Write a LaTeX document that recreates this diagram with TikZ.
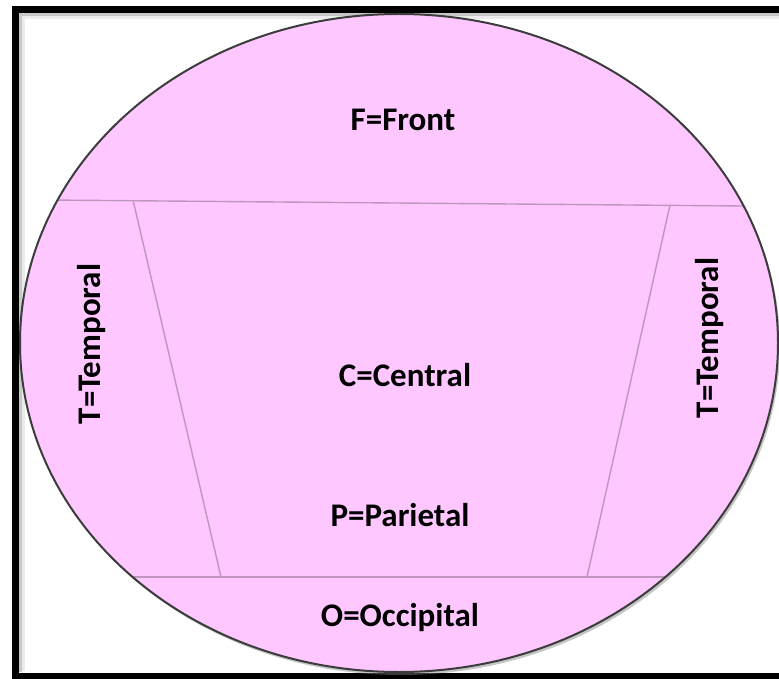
\documentclass[tikz,border=0pt]{standalone}
\usepackage{fontspec}
\setmainfont{Carlito}
\definecolor{headpink}{RGB}{255,199,255}
\definecolor{headline}{RGB}{60,60,60}
\definecolor{lobeline}{RGB}{190,150,190}
\usetikzlibrary{shadows}

\tikzset{
  lobe/.style={font=\fontsize{33}{36}\selectfont\bfseries, text=black},
  divider/.style={draw=lobeline, line width=1.4pt}
}

\begin{document}
\begin{tikzpicture}[x=1pt,y=-1pt]
  \useasboundingbox (0,0) rectangle (779,679);

  % Frame
  \draw[black!8, line width=3pt] (790,17.5) -- (23.5,17.5) -- (23.5,671);
  \draw[black!22, line width=3pt] (790,14.5) -- (20.5,14.5) -- (20.5,672);
  \draw[line width=7pt] (790,9.5) -- (15.5,9.5) -- (15.5,676) -- (790,676);

  % Head
  \fill[headpink, drop shadow={shadow xshift=2pt, shadow yshift=-3pt, opacity=0.45}]
    (399,343) ellipse [x radius=379pt, y radius=329pt];

  % Corners of the central region
  \coordinate (tl) at (133,200);
  \coordinate (tr) at (670,205);
  \coordinate (bl) at (221,577);
  \coordinate (br) at (587,577);
  \coordinate (topw) at (0,199.6);
  \coordinate (tope) at (779,206.3);
  \coordinate (botw) at (0,577);
  \coordinate (bote) at (779,577);

  % Dividing lines
  \begin{scope}
    \clip (399,343) ellipse [x radius=379pt, y radius=329pt];
    \draw[divider] (topw) -- (tope);
    \draw[divider] (botw) -- (bote);
    \draw[divider] (tl) -- (bl);
    \draw[divider] (tr) -- (br);
  \end{scope}
  \draw[headline, line width=2pt] (399,343) ellipse [x radius=379pt, y radius=329pt];

  % Lobes
  \node[lobe] (front) at (403,120) {F=Front};
  \node[lobe] (central) at (405,375) {C=Central};
  \node[lobe] (parietal) at (400,515) {P=Parietal};
  \node[lobe] (occipital) at (400,618) {O=Occipital};
  \node[lobe, rotate=90] (templeft) at (92,344) {T=Temporal};
  \node[lobe, rotate=90] (tempright) at (710,338) {T=Temporal};
\end{tikzpicture}
\end{document}
